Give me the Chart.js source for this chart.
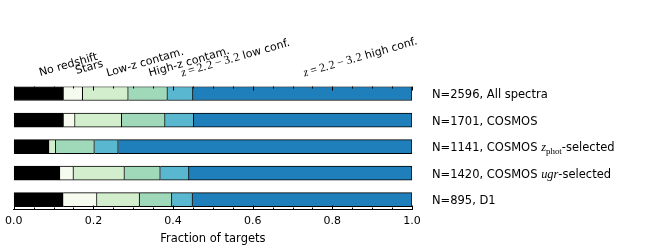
<!DOCTYPE html>
<html><head><meta charset="utf-8">
<script src="https://cdn.jsdelivr.net/npm/chart.js@4"></script>
<style>html,body{margin:0;padding:0;background:#fff}#wrap{width:664px;height:249px}</style>
</head><body><div id="wrap"><canvas id="c" width="664" height="249"></canvas></div>
<script>
// ---- data ----
const categories = ['N=2596, All spectra', 'N=1701, COSMOS', 'N=1141, COSMOS $z_{phot}$-selected', 'N=1420, COSMOS $ugr$-selected', 'N=895, D1'];
const seriesNames = ['No redshift', 'Stars', 'Low-z contam.', 'High-z contam.', '$z=2.2−3.2$ low conf.', '$z=2.2−3.2$ high conf.'];
const noRedshift = [0.125, 0.125, 0.0885, 0.116, 0.124];
const stars      = [0.048, 0.029, 0.000, 0.034, 0.085];
const lowZ       = [0.1145, 0.117, 0.017, 0.128, 0.107];
const highZ      = [0.0985, 0.109, 0.097, 0.090, 0.081];
const lowConf    = [0.064, 0.072, 0.060, 0.072, 0.052];
const highConf   = [0.550, 0.548, 0.7375, 0.560, 0.551];
const xTicks = [0.0, 0.2, 0.4, 0.6, 0.8, 1.0];
const xMinorStep = 0.05;

// ---- styles ----
const colors = ['#000000', '#f5fbee', '#d3eecd', '#9fd9b9', '#5ab7d0', '#1f7fba'];
const labelRaise = [0.5, 2.5, 0, 0, 0, 0];
const labelShift = [-0.5, 1.5, 0, 0, 0, 0];
const SANS = '"DejaVu Sans"';
const SERIF = '"Liberation Serif"';

const series = [noRedshift, stars, lowZ, highZ, lowConf, highConf];

function drawMath(ctx, m, x, y, ms) {
  let cx = x, i = 0;
  while (i < m.length) {
    const ch = m[i];
    if (ch === '_') {
      const end = m.indexOf('}', i);
      const sub = m.slice(i + 2, end);
      ctx.font = (ms * 0.72) + 'px ' + SERIF;
      ctx.fillText(sub, cx, y + ms * 0.22);
      cx += ctx.measureText(sub).width;
      i = end + 1; continue;
    }
    if (ch === '=' || ch === '−') {
      cx += ms * 0.22;
      ctx.font = ms + 'px ' + SERIF;
      ctx.fillText(ch, cx, y);
      cx += ctx.measureText(ch).width + ms * 0.22;
      i++; continue;
    }
    ctx.font = (/[a-zA-Z]/.test(ch) ? 'italic ' : '') + ms + 'px ' + SERIF;
    ctx.fillText(ch, cx, y);
    cx += ctx.measureText(ch).width;
    if (ch === '.') cx += ms * 0.1;
    i++;
  }
  return cx;
}
function drawRich(ctx, str, x, y, size) {
  const parts = str.split('$');
  let cx = x;
  parts.forEach((p, k) => {
    if (k % 2 === 0) {
      ctx.font = size + 'px ' + SANS;
      ctx.fillText(p, cx, y);
      cx += ctx.measureText(p).width;
    } else {
      cx = drawMath(ctx, p, cx, y, size * 1.08);
    }
  });
  return cx;
}

const decor = {
  id: 'decor',
  afterDatasetsDraw(chart) {
    const ctx = chart.ctx, xs = chart.scales.x, ys = chart.scales.y, a = chart.chartArea;
    ctx.save();
    ctx.strokeStyle = '#000'; ctx.lineWidth = 1;
    const nMinor = Math.round(1 / xMinorStep);
    for (let k = 0; k <= nMinor; k++) {
      const v = k * xMinorStep;
      const major = xTicks.some(t => Math.abs(t - v) < 1e-9);
      const len = major ? 4 : 2;
      const px = Math.round(xs.getPixelForValue(v)) + 0.5;
      ctx.beginPath();
      ctx.moveTo(px, a.bottom); ctx.lineTo(px, a.bottom - len);
      ctx.moveTo(px, a.top); ctx.lineTo(px, a.top + len);
      ctx.stroke();
    }
    ctx.fillStyle = '#000'; ctx.textBaseline = 'alphabetic'; ctx.textAlign = 'left';
    categories.forEach((c, i) => {
      drawRich(ctx, c, 432, ys.getPixelForValue(i) + 4.5, 11.5);
    });
    let cum = 0;
    series.forEach((s, j) => {
      const mid = cum + s[0] / 2;
      cum += s[0];
      const px = xs.getPixelForValue(mid) + 2 + labelShift[j];
      const py = 76.6 - labelRaise[j];
      ctx.save();
      ctx.translate(px, py);
      ctx.rotate(-16 * Math.PI / 180);
      drawRich(ctx, seriesNames[j], 0, 0, 11);
      ctx.restore();
    });
    ctx.restore();
  }
};

new Chart(document.getElementById('c'), {
  type: 'bar',
  data: {
    datasets: series.map((s, j) => ({
      label: seriesNames[j],
      data: s.map((v, i) => ({ x: v, y: i })),
      backgroundColor: colors[j],
      borderColor: '#000',
      borderWidth: 1,
      borderSkipped: 'start',
      barThickness: 14
    }))
  },
  options: {
    indexAxis: 'y',
    responsive: false,
    animation: false,
    devicePixelRatio: 1,
    layout: { padding: { left: 13, right: 252, top: 86.5, bottom: 0 } },
    plugins: { legend: { display: false }, tooltip: { enabled: false } },
    scales: {
      y: { type: 'linear', min: -0.264, max: 4.37, reverse: true, display: false, stacked: true, offset: false, grid: { offset: false } },
      x: {
        type: 'linear', min: 0, max: 1, stacked: true, position: 'bottom', offset: false,
        afterBuildTicks: s => { s.ticks = xTicks.map(v => ({ value: v })); },
        afterFit: s => { s.height = 39.5; },
        ticks: { callback: v => v.toFixed(1), font: { family: 'DejaVu Sans', size: 11 }, color: '#000', padding: 5, maxRotation: 0, autoSkip: false },
        grid: { display: false, drawTicks: false },
        border: { display: true, color: '#000', width: 1 },
        title: { display: true, text: 'Fraction of targets', font: { family: 'DejaVu Sans', size: 11.5 }, color: '#000', padding: { top: 0, bottom: 3.5 } }
      }
    }
  },
  plugins: [decor]
});
</script>
</body></html>
